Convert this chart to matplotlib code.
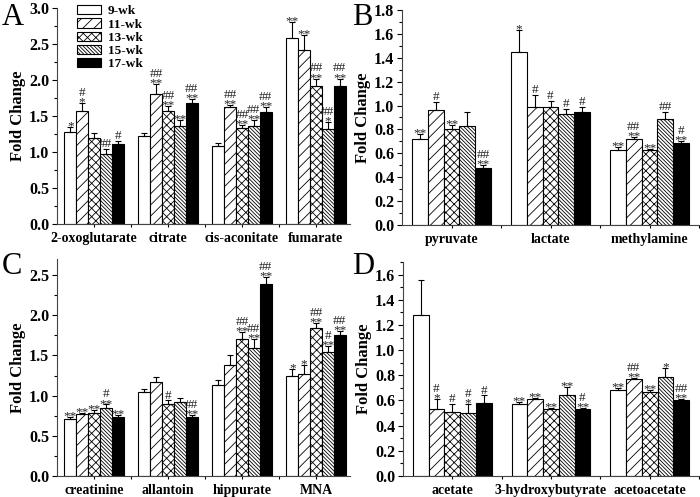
import matplotlib
matplotlib.use("Agg")
import matplotlib.pyplot as plt
import numpy as np
from matplotlib.ticker import MultipleLocator, FixedLocator

plt.rcParams['font.family'] = ['Liberation Serif', 'DejaVu Serif']
plt.rcParams['hatch.linewidth'] = 0.6

series = ['9-wk', '11-wk', '13-wk', '15-wk', '17-wk']

# Panel A
A_cats = ['2-oxoglutarate', 'citrate', 'cis-aconitate', 'fumarate']
A_mean = [[1.28, 1.22, 1.09, 2.59],
          [1.57, 1.80, 1.62, 2.41],
          [1.20, 1.57, 1.33, 1.91],
          [0.97, 1.36, 1.36, 1.32],
          [1.11, 1.68, 1.56, 1.91]]
A_err = [[0.07, 0.05, 0.03, 0.21],
         [0.11, 0.15, 0.03, 0.22],
         [0.07, 0.07, 0.05, 0.11],
         [0.07, 0.08, 0.08, 0.10],
         [0.04, 0.06, 0.07, 0.11]]
A_sig = [['*', '', '', '**'],
         ['#\n*', '##\n**', '##\n**', '**'],
         ['', '##\n**', '##\n**', '##\n**'],
         ['##', '**', '##\n**', '##\n*'],
         ['#', '##\n**', '##\n**', '##\n**']]

# Panel B
B_cats = ['pyruvate', 'lactate', 'methylamine']
B_mean = [[0.72, 1.45, 0.63],
          [0.96, 0.99, 0.72],
          [0.80, 0.99, 0.63],
          [0.83, 0.93, 0.89],
          [0.48, 0.95, 0.69]]
B_err = [[0.04, 0.18, 0.02],
         [0.07, 0.10, 0.02],
         [0.04, 0.05, 0.01],
         [0.12, 0.04, 0.06],
         [0.02, 0.04, 0.01]]
B_sig = [['**', '*', '**'],
         ['#', '#', '##\n**'],
         ['**', '#', '**'],
         ['', '#', '##'],
         ['##\n**', '#', '#\n**']]

# Panel C
C_cats = ['creatinine', 'allantoin', 'hippurate', 'MNA']
C_mean = [[0.71, 1.04, 1.13, 1.25],
          [0.77, 1.17, 1.38, 1.27],
          [0.79, 0.90, 1.70, 1.84],
          [0.84, 0.92, 1.59, 1.54],
          [0.74, 0.73, 2.39, 1.75]]
C_err = [[0.03, 0.04, 0.06, 0.08],
         [0.02, 0.06, 0.12, 0.11],
         [0.03, 0.04, 0.09, 0.06],
         [0.05, 0.05, 0.12, 0.08],
         [0.02, 0.03, 0.09, 0.05]]
C_sig = [['**', '', '', '*'],
         ['**', '', '', '*'],
         ['**', '#', '##\n**', '##\n**'],
         ['#\n**', '', '##\n**', '#\n**'],
         ['**', '##\n**', '##\n**', '##\n**']]

# Panel D
D_cats = ['acetate', '3-hydroxybutyrate', 'acetoacetate']
D_mean = [[1.28, 0.57, 0.68],
          [0.53, 0.61, 0.77],
          [0.51, 0.53, 0.67],
          [0.50, 0.64, 0.79],
          [0.58, 0.53, 0.60]]
D_err = [[0.28, 0.02, 0.02],
         [0.08, 0.01, 0.01],
         [0.06, 0.01, 0.01],
         [0.07, 0.07, 0.07],
         [0.06, 0.01, 0.01]]
D_sig = [['', '**', '**'],
         ['#\n*', '**', '##\n**'],
         ['#', '**', '**'],
         ['#\n*', '**', '*'],
         ['#', '#\n**', '##\n**']]

W, H = 700, 497
fig = plt.figure(figsize=(7.0, 4.97), dpi=100)

face = ['white', 'white', 'white', 'white', 'black']
hatches = [None, '///', 'xxxx', '\\' * 9, None]
MARK = '#222222'


def px_axes(l, r, t, b):
    return fig.add_axes([l / W, 1 - b / H, (r - l) / W, (b - t) / H])


def panel(ax, cats, mean, err, sig, ymax, major, minor, xright):
    n = len(cats)
    x = np.arange(n)
    bw = 0.16
    for i in range(5):
        xs = x + (i - 2) * bw
        ax.bar(xs, mean[i], bw, color=face[i], edgecolor='black',
               hatch=hatches[i], linewidth=0.8, label=series[i], zorder=2)
        ax.errorbar(xs, mean[i], yerr=[np.zeros(n), err[i]], fmt='none',
                    ecolor='black', elinewidth=0.8, capsize=2.5, capthick=0.8, zorder=3)
        for j in range(n):
            s = sig[i][j]
            if not s:
                continue
            last = s.split('\n')[-1]
            off = -3.9 if last.startswith('*') else -0.8
            ax.annotate(s, (xs[j], mean[i][j] + err[i][j]), xytext=(0, off),
                        textcoords='offset points', ha='center', va='bottom',
                        fontsize=9.5, linespacing=0.72, color=MARK, zorder=4)
    ax.set_xlim(-0.5, xright)
    ax.set_ylim(0, ymax)
    ax.set_xticks(x)
    ax.set_xticklabels(cats, fontsize=10, fontweight='bold')
    ax.xaxis.set_minor_locator(FixedLocator(np.arange(n) + 0.5))
    ax.yaxis.set_major_locator(MultipleLocator(major))
    ax.yaxis.set_minor_locator(MultipleLocator(minor))
    ax.yaxis.set_major_formatter(plt.FuncFormatter(lambda v, p: f'{v:.1f}'))
    for lab in ax.get_yticklabels():
        lab.set_fontweight('bold')
        lab.set_fontsize(11.5)
    ax.tick_params(axis='y', which='major', direction='out', length=3.5, width=0.8, pad=2)
    ax.tick_params(axis='y', which='minor', direction='out', length=2, width=0.8)
    ax.tick_params(axis='x', which='both', direction='out', length=2.5, width=0.8, pad=3)
    for sp in ['top', 'right']:
        ax.spines[sp].set_visible(False)
    for sp in ['left', 'bottom']:
        ax.spines[sp].set_linewidth(0.8)
        ax.spines[sp].set_color('#444444')
    ax.set_ylabel('Fold Change', fontsize=12, fontweight='bold', labelpad=2)


axA = px_axes(57, 350, 8, 224)
panel(axA, A_cats, A_mean, A_err, A_sig, 3.0, 0.5, 0.25, 3.46)
axB = px_axes(402, 699, 10, 225)
panel(axB, B_cats, B_mean, B_err, B_sig, 1.8, 0.2, 0.1, 2.5)
axC = px_axes(57, 350, 259, 476)
panel(axC, C_cats, C_mean, C_err, C_sig, 2.7, 0.5, 0.25, 3.46)
axD = px_axes(403, 699, 262, 476)
panel(axD, D_cats, D_mean, D_err, D_sig, 1.7, 0.2, 0.1, 2.5)

axA.legend(loc='upper left', bbox_to_anchor=(77 / W, 1 - 5 / H),
           bbox_transform=fig.transFigure, frameon=False,
           prop={'weight': 'bold', 'size': 9.5}, handlelength=1.8,
           handleheight=0.7, labelspacing=0.08, handletextpad=0.55,
           borderpad=0, borderaxespad=0)

for lab, xp, yp in [('A', 2, 3), ('B', 352, 3), ('C', 2, 252), ('D', 352, 252)]:
    fig.text(xp / W, 1 - yp / H, lab, fontsize=22, ha='left', va='top')

fig.savefig('out.png', dpi=100)
